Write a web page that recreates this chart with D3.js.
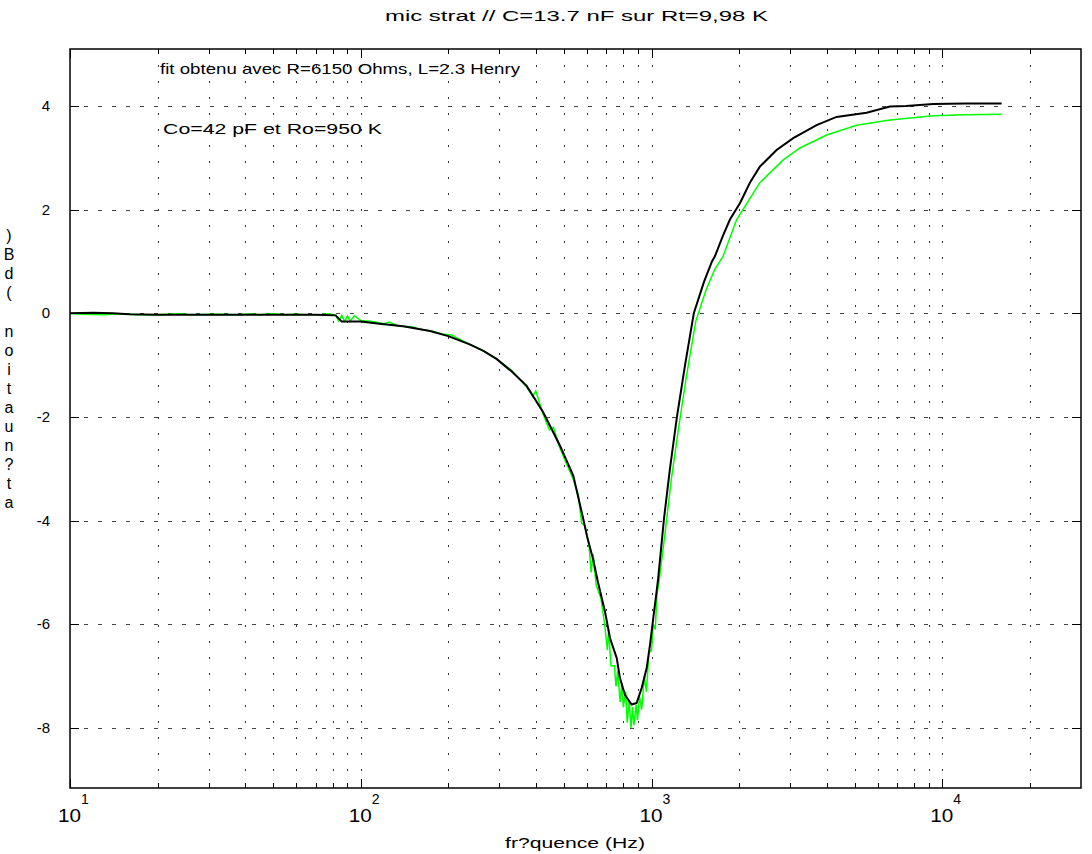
<!DOCTYPE html>
<html>
<head>
<meta charset="utf-8">
<script src="https://cdn.jsdelivr.net/npm/d3@7/dist/d3.min.js"></script>
<style>
  body { margin: 0; background: #fff; }
  svg text { font-family: "Liberation Sans", Arial, sans-serif; fill: #000; }
</style>
</head>
<body>
<div id="chart"></div>
<script>
const titleText = "mic strat // C=13.7 nF sur Rt=9,98 K"
const xLabel = "fr?quence (Hz)"
const yLabel = "at?nuation (dB)"
const notes = ["fit obtenu avec R=6150 Ohms, L=2.3 Henry", "Co=42 pF et Ro=950 K"]

const xTickExps = [1, 2, 3, 4]
const yTicks = [-8, -6, -4, -2, 0, 2, 4]

// fit (black)
const fitFreq = [10, 12, 14, 16, 20, 30, 50, 70, 82, 86, 100, 116, 140, 173, 200, 237, 265, 293, 330, 372,
  424, 484, 538, 582, 600, 630, 655, 692, 720, 759, 779, 810, 854, 889, 925, 962, 988, 1014, 1041, 1054,
  1104, 1157, 1223, 1304, 1398, 1514, 1614, 1652, 1761, 1861, 2016, 2179, 2358, 2692, 3072, 3696, 4328,
  5490, 6607, 7500, 9310, 12000, 16000]
const fitDb = [0, 0.01, 0, -0.02, -0.03, -0.03, -0.03, -0.03, -0.04, -0.16, -0.16, -0.2, -0.25, -0.34, -0.44, -0.6, -0.73, -0.88, -1.12, -1.4,
  -1.91, -2.55, -3.13, -3.96, -4.3, -4.75, -5.2, -5.76, -6.27, -6.65, -7.04, -7.36, -7.55, -7.52, -7.23, -6.85, -6.4, -5.88, -5.37, -5.12,
  -3.96, -3, -2, -1, 0, 0.6, 1.0, 1.1, 1.5, 1.81, 2.13, 2.52, 2.83, 3.15, 3.38, 3.63, 3.79,
  3.87, 3.99, 4.0, 4.04, 4.05, 4.05]

// measurement (green)
const measFreq = [10, 11, 13, 15, 17, 20, 24, 26, 32, 38, 42, 45, 50, 55, 60, 65, 72, 78, 82, 84, 86, 88, 90, 92, 95,
  100, 110, 120, 125, 135, 150, 160, 175, 190, 205, 215, 237, 260, 293, 330, 345, 372, 390, 400, 424, 445, 460,
  484, 510, 538, 560, 575, 590, 610, 620, 630, 645, 670, 690, 705, 712, 725, 745, 755, 765, 780, 790, 800, 815,
  825, 838, 850, 860, 870, 885, 895, 910, 925, 945, 960, 980, 1000, 1014, 1030, 1045, 1060, 1110, 1170, 1240,
  1320, 1420, 1540, 1650, 1762, 1963, 2358, 2838, 3238, 4000, 5072, 6607, 9310, 12000, 16000]
const measDb = [0, -0.02, -0.03, -0.01, -0.03, -0.03, -0.01, -0.03, -0.02, -0.03, -0.01, -0.03, -0.01, -0.03, -0.02, -0.03, -0.03, -0.01, -0.04, -0.15, -0.04, -0.16, -0.05, -0.15, -0.05,
  -0.14, -0.16, -0.2, -0.17, -0.25, -0.26, -0.31, -0.34, -0.4, -0.42, -0.48, -0.6, -0.7, -0.88, -1.1, -1.22, -1.42, -1.6, -1.5, -1.95, -2.25, -2.2,
  -2.6, -2.9, -3.2, -3.5, -4.05, -4.1, -4.5, -5.0, -4.65, -5.25, -5.5, -6.0, -6.5, -6.1, -6.8, -6.8, -7.2, -6.9, -7.5, -7.15, -7.6, -7.3,
  -7.9, -7.5, -8.0, -7.6, -7.95, -7.55, -7.85, -7.4, -7.65, -7.0, -7.3, -6.55, -6.5, -6.0, -6.1, -5.4, -5.2, -4.3, -3.2, -2.2,
  -1.2, -0.15, 0.45, 0.85, 1.1, 1.81, 2.52, 2.96, 3.19, 3.44, 3.63, 3.73, 3.81, 3.83, 3.84]

const W = 1092, H = 854
const margin = { left: 70, right: 11, top: 49, bottom: 66 }

const svg = d3.select("#chart").append("svg")
    .attr("width", W)
    .attr("height", H)

const x = d3.scaleLog()
    .domain([10, 30000])
    .range([margin.left, W - margin.right])

const y = d3.scaleLinear()
    .domain([-9.16, 5.1])
    .range([H - margin.bottom, margin.top])

const [x0, x1] = x.range()
const [y0, y1] = [y.range()[1], y.range()[0]]

// minor + major vertical positions
const xGrid = []
for (let e = 1; e <= 4; e++) {
  for (let m = 1; m <= 9; m++) {
    const v = m * Math.pow(10, e)
    if (v > 10 && v < 30000) xGrid.push(v)
  }
}

const grid = svg.append("g").attr("class", "grid")

grid.selectAll("line.v")
    .data(xGrid)
    .join("line")
    .attr("class", "v")
    .attr("x1", d => Math.round(x(d)) + 0.5)
    .attr("x2", d => Math.round(x(d)) + 0.5)
    .attr("y1", y0)
    .attr("y2", y1)
    .attr("stroke", "#333")
    .attr("stroke-width", 1)
    .attr("stroke-dasharray", "2,14")

grid.selectAll("line.h")
    .data(yTicks)
    .join("line")
    .attr("class", "h")
    .attr("x1", x0)
    .attr("x2", x1)
    .attr("y1", d => Math.round(y(d)) + 0.5)
    .attr("y2", d => Math.round(y(d)) + 0.5)
    .attr("stroke", "#444")
    .attr("stroke-width", 1)
    .attr("stroke-dasharray", "4,10")

// curves
const line = d3.line()
    .x(d => x(d[0]))
    .y(d => y(d[1]))

svg.append("path")
    .datum(measFreq.map((f, i) => [f, measDb[i]]))
    .attr("d", line)
    .attr("fill", "none")
    .attr("stroke", "#00ff00")
    .attr("stroke-width", 1.5)

svg.append("path")
    .datum(fitFreq.map((f, i) => [f, fitDb[i]]))
    .attr("d", line)
    .attr("fill", "none")
    .attr("stroke", "#000")
    .attr("stroke-width", 2)

// ticks (inside the box, as MATLAB does)
const ticks = svg.append("g").attr("stroke", "#000").attr("stroke-width", 1)
xGrid.concat([10]).forEach(v => {
  const isMajor = Math.abs(Math.log10(v) % 1) < 1e-9
  const len = isMajor ? 9 : 5
  const px = Math.round(x(v)) + 0.5
  ticks.append("line").attr("x1", px).attr("x2", px).attr("y1", y1).attr("y2", y1 - len)
  ticks.append("line").attr("x1", px).attr("x2", px).attr("y1", y0).attr("y2", y0 + len)
})
yTicks.forEach(v => {
  const py = Math.round(y(v)) + 0.5
  ticks.append("line").attr("x1", x0).attr("x2", x0 + 9).attr("y1", py).attr("y2", py)
  ticks.append("line").attr("x1", x1).attr("x2", x1 - 9).attr("y1", py).attr("y2", py)
})

// box
svg.append("rect")
    .attr("x", x0)
    .attr("y", y0)
    .attr("width", x1 - x0)
    .attr("height", y1 - y0)
    .attr("fill", "none")
    .attr("stroke", "#000")
    .attr("stroke-width", 1.5)

// y tick labels
svg.append("g").selectAll("text")
    .data(yTicks)
    .join("text")
    .attr("x", x0 - 20)
    .attr("y", d => y(d) + 5)
    .attr("text-anchor", "end")
    .attr("font-size", 15)
    .text(d => d)

// x tick labels, 10 with exponent
const xl = svg.append("g")
xTickExps.forEach(e => {
  const px = x(Math.pow(10, e))
  xl.append("text")
      .attr("x", px - 12)
      .attr("y", 822)
      .attr("font-size", 18)
      .attr("textLength", 23)
      .attr("lengthAdjust", "spacingAndGlyphs")
      .text("10")
  xl.append("text")
      .attr("x", px + 11)
      .attr("y", 804)
      .attr("font-size", 14)
      .text(e)
})

// title and axis labels
svg.append("text")
    .attr("x", 385)
    .attr("y", 21)
    .attr("font-size", 14)
    .attr("textLength", 383)
    .attr("lengthAdjust", "spacingAndGlyphs")
    .text(titleText)

svg.append("text")
    .attr("x", 505)
    .attr("y", 848)
    .attr("font-size", 15)
    .attr("textLength", 140)
    .attr("lengthAdjust", "spacingAndGlyphs")
    .text(xLabel)

// y label: characters stacked, reversed order
const yChars = yLabel.split("").reverse()
svg.append("g").selectAll("text")
    .data(yChars)
    .join("text")
    .attr("x", 9)
    .attr("y", (d, i) => 241 + i * 19.1)
    .attr("text-anchor", "middle")
    .attr("font-size", 16)
    .text(d => d)

// annotations
svg.append("text")
    .attr("x", 160)
    .attr("y", 74)
    .attr("font-size", 15)
    .attr("textLength", 360)
    .attr("lengthAdjust", "spacingAndGlyphs")
    .text(notes[0])

svg.append("text")
    .attr("x", 163)
    .attr("y", 134)
    .attr("font-size", 15)
    .attr("textLength", 219)
    .attr("lengthAdjust", "spacingAndGlyphs")
    .text(notes[1])
</script>
</body>
</html>
